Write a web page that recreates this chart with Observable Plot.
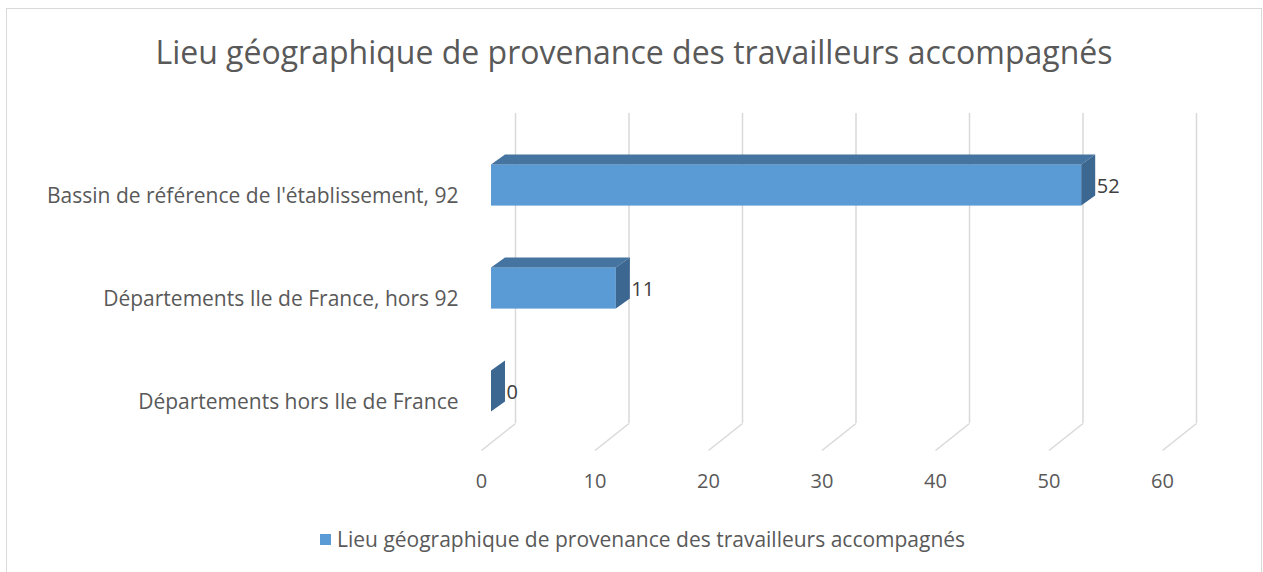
<!DOCTYPE html>
<html>
<head>
<meta charset="utf-8">
<script src="https://cdn.jsdelivr.net/npm/d3@7"></script>
<script src="https://cdn.jsdelivr.net/npm/@observablehq/plot@0.6"></script>
<style>
  html, body { margin: 0; padding: 0; background: #fff; }
  #wrap { position: relative; width: 1263px; height: 572px; overflow: hidden; font-family: "Open Sans", sans-serif; color: #595959; }
  #frame { position: absolute; left: 6px; top: 8px; width: 1256px; height: 600px; border: 1px solid #d9d9d9; box-sizing: border-box; }
  #title { position: absolute; left: 6px; width: 1256px; top: 32px; text-align: center; font-size: 32px; line-height: 40px; white-space: nowrap; }
  #chart { position: absolute; left: 0; top: 90px; }
  #legend { position: absolute; left: 320px; top: 525px; font-size: 21px; line-height: 28px; white-space: nowrap; display: flex; align-items: center; }
  #legend .sw { width: 11px; height: 11px; background: #5B9BD5; margin-right: 6px; }
</style>
</head>
<body>
<div id="wrap">
  <div id="frame"></div>
  <div id="title"></div>
  <div id="chart"></div>
  <div id="legend"><span class="sw"></span><span id="legtext"></span></div>
</div>
<script>
const titleText = "Lieu géographique de provenance des travailleurs accompagnés";
const seriesName = "Lieu géographique de provenance des travailleurs accompagnés";
const categories = [
  "Bassin de référence de l'établissement, 92",
  "Départements Ile de France, hors 92",
  "Départements hors Ile de France"
];
const values = [52, 11, 0];
const tickValues = [0, 10, 20, 30, 40, 50, 60];

document.getElementById("title").textContent = titleText;
document.getElementById("legtext").textContent = seriesName;

const data = categories.map((c, i) => ({cat: c, i, value: values[i]}));

// 3D depth (in data units)
const pxPerX = 681 / 60;
const pxPerY = 103;
const barDX = 14 / pxPerX, barDY = 10 / pxPerY;
const half = 0.2;
const wallDX = 34 / pxPerX, wallDY = 27 / pxPerY;
const floorY = 2.573;
const wallTop = -0.699;

const topPts = data.flatMap(d => [
  {cat: d.cat, y: d.i - half, x1: 0, x2: d.value},
  {cat: d.cat, y: d.i - half - barDY, x1: barDX, x2: d.value + barDX}
]);
const sidePts = data.flatMap(d => [
  {cat: d.cat, x: d.value, y1: d.i - half, y2: d.i + half},
  {cat: d.cat, x: d.value + barDX, y1: d.i - half - barDY, y2: d.i + half - barDY}
]);

const chart = Plot.plot({
  width: 1263,
  height: 430,
  marginLeft: 0, marginRight: 0, marginTop: 0, marginBottom: 0,
  style: {fontFamily: "Open Sans, sans-serif", background: "transparent", overflow: "visible"},
  x: {domain: [0, 60], range: [481, 1162], axis: null},
  y: {domain: [-0.9, 3.1], range: [2.3, 414.3], axis: null},
  marks: [
    Plot.ruleX(tickValues, {x: d => d, y1: () => wallTop, y2: () => floorY - wallDY, dx: wallDX * pxPerX, stroke: "#d9d9d9", strokeWidth: 1.5}),
    Plot.link(tickValues, {x1: d => d, x2: d => d + wallDX, y1: () => floorY, y2: () => floorY - wallDY, stroke: "#d9d9d9", strokeWidth: 1.5}),
    Plot.rect(data, {x1: () => 0, x2: d => d.value, y1: d => d.i - half, y2: d => d.i + half, dx: 10, fill: "#5B9BD5"}),
    Plot.areaX(topPts, {y: "y", x1: "x1", x2: "x2", z: "cat", dx: 10, fill: "#44749F"}),
    Plot.areaY(sidePts, {x: "x", y1: "y1", y2: "y2", z: "cat", dx: 10, fill: "#3B6791"}),
    Plot.text(data, {x: d => d.value, y: d => d.i + 0.01, text: d => String(d.value), dx: 25, textAnchor: "start", fontSize: 20, fill: "#404040"}),
    Plot.text(data, {x: () => 0, y: d => d.i + 0.1, text: "cat", dx: -23, textAnchor: "end", fontSize: 21, fill: "#595959"}),
    Plot.text(tickValues, {x: d => d, y: () => 2.874, text: d => String(d), fontSize: 20, fill: "#595959"})
  ]
});
document.getElementById("chart").appendChild(chart);
</script>
</body>
</html>
